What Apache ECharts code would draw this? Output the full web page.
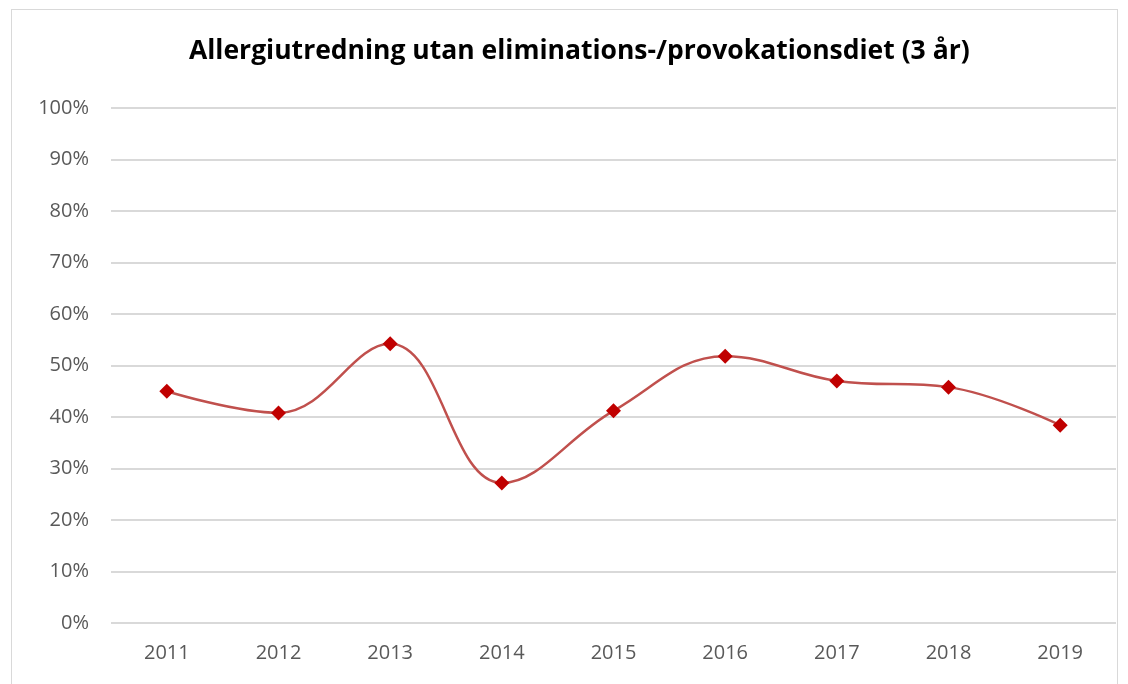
<!DOCTYPE html>
<html>
<head>
<meta charset="utf-8">
<script src="https://cdn.jsdelivr.net/npm/echarts@6/dist/echarts.min.js"></script>
<style>
  html, body { margin: 0; padding: 0; background: #fff; }
  #frame { position: absolute; left: 11px; top: 9px; width: 1107px; height: 680px; border: 1px solid #d9d9d9; box-sizing: border-box; }
  #main { position: absolute; left: 0; top: 0; width: 1128px; height: 684px; }
</style>
</head>
<body>
<div id="frame"></div>
<div id="main"></div>
<script>
var years = ['2011', '2012', '2013', '2014', '2015', '2016', '2017', '2018', '2019'];
var values = [45.0, 40.8, 54.2, 27.2, 41.2, 51.8, 47.0, 45.8, 38.4];

var myChart = echarts.init(document.getElementById('main'));

var option = {
    title: {
        text: 'Allergiutredning utan eliminations-/provokationsdiet (3 år)',
        left: 184,
        top: 33,
        textStyle: {
            fontFamily: 'Open Sans',
            fontWeight: 'bold',
            fontSize: 26.5,
            color: '#000'
        }
    },
    grid: {
        left: 111,
        right: 12,
        top: 108,
        bottom: 61
    },
    xAxis: {
        type: 'category',
        data: years,
        boundaryGap: true,
        axisLine: { show: false },
        axisTick: { show: false },
        axisLabel: {
            margin: 20,
            fontFamily: 'Open Sans',
            fontSize: 20,
            color: '#595959'
        }
    },
    yAxis: {
        type: 'value',
        min: 0,
        max: 100,
        interval: 10,
        axisLine: { show: false },
        axisTick: { show: false },
        axisLabel: {
            margin: 22,
            formatter: '{value}%',
            fontFamily: 'Open Sans',
            fontSize: 20,
            color: '#595959'
        },
        splitLine: {
            lineStyle: { color: '#d9d9d9', width: 2 }
        }
    },
    series: [{
        type: 'line',
        data: values,
        smooth: 0.4,
        symbol: 'diamond',
        symbolSize: 15,
        itemStyle: { color: '#c00000' },
        lineStyle: { color: '#c0504d', width: 2.5 }
    }]
};
myChart.setOption(option);
</script>
</body>
</html>
